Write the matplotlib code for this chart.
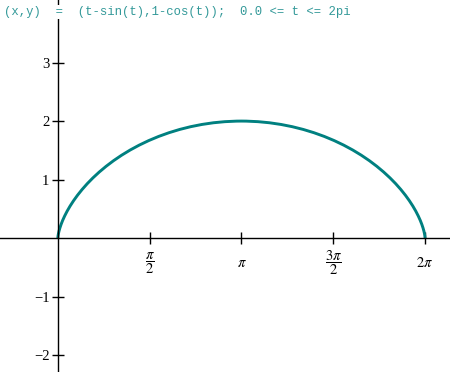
import numpy as np
import matplotlib
matplotlib.use("Agg")
import matplotlib.pyplot as plt

# points on the curve
xs = [0.0, 0.0002, 0.0013, 0.0045, 0.0106, 0.0206, 0.0354, 0.0558, 0.0826, 0.1167,
      0.1585, 0.2088, 0.2680, 0.3364, 0.4146, 0.5025, 0.6004, 0.7083, 0.8262, 0.9537,
      1.0907, 1.2368, 1.3915, 1.5543, 1.7245, 1.9015, 2.0845, 2.2726, 2.4650, 2.6608,
      2.8589, 3.0584, 3.1416,
      3.2248, 3.4243, 3.6224, 3.8182, 4.0106, 4.1987, 4.3817, 4.5587, 4.7289, 4.8917,
      5.0464, 5.1925, 5.3295, 5.4570, 5.5749, 5.6828, 5.7807, 5.8686, 5.9468, 6.0152,
      6.0744, 6.1247, 6.1665, 6.2006, 6.2274, 6.2478, 6.2626, 6.2726, 6.2787, 6.2819,
      6.2830, 6.2832]
ys = [0.0, 0.0050, 0.0199, 0.0447, 0.0789, 0.1224, 0.1747, 0.2352, 0.3033, 0.3784,
      0.4597, 0.5464, 0.6376, 0.7325, 0.8300, 0.9293, 1.0292, 1.1288, 1.2272, 1.3233,
      1.4162, 1.5049, 1.5885, 1.6663, 1.7374, 1.8011, 1.8569, 1.9041, 1.9422, 1.9710,
      1.9900, 1.9991, 2.0,
      1.9991, 1.9900, 1.9710, 1.9422, 1.9041, 1.8569, 1.8011, 1.7374, 1.6663, 1.5885,
      1.5049, 1.4162, 1.3233, 1.2272, 1.1288, 1.0292, 0.9293, 0.8300, 0.7325, 0.6376,
      0.5464, 0.4597, 0.3784, 0.3033, 0.2352, 0.1747, 0.1224, 0.0789, 0.0447, 0.0199,
      0.0050, 0.0]

xticks = [np.pi / 2, np.pi, 3 * np.pi / 2, 2 * np.pi]
xlabels = [r'$\dfrac{\pi}{2}$', r'$\pi$', r'$\dfrac{3\pi}{2}$', r'$2\pi$']
yticks = [-2, -1, 1, 2, 3]
ylabels = ['\u22122', '\u22121', '1', '2', '3']

title = '(x,y)  =  (t-sin(t),1-cos(t));  0.0 <= t <= 2pi'

plt.rcParams['font.family'] = 'Liberation Serif'
plt.rcParams['mathtext.fontset'] = 'stix'

fig = plt.figure(figsize=(4.5, 3.72), dpi=100)
ax = fig.add_axes([0, 0, 1, 1])
ax.plot(xs, ys, color='#008080', lw=2.1, solid_capstyle='butt')

ax.set_xlim(-0.99, 6.71)
ax.set_ylim(-2.29, 4.07)

for s in ['top', 'right']:
    ax.spines[s].set_visible(False)
ax.spines['left'].set_position(('data', 0))
ax.spines['bottom'].set_position(('data', 0))
ax.spines['left'].set_linewidth(1.0)
ax.spines['bottom'].set_linewidth(1.0)

ax.set_xticks(xticks)
ax.set_xticklabels(xlabels, fontsize=10.5)
ax.set_yticks(yticks)
ax.set_yticklabels(ylabels, fontsize=10.5)
ax.tick_params(direction='inout', length=8, width=1)
ax.tick_params(axis='x', pad=14)
ax.tick_params(axis='y', pad=2)
for lab in ax.get_xticklabels():
    lab.set_verticalalignment('center')

fig.text(0.009, 0.968, title, family='Liberation Mono', fontsize=8.8,
         color='#339999', va='center', ha='left',
         bbox=dict(facecolor='white', edgecolor='none', pad=1))

fig.savefig('out.png', dpi=100)
